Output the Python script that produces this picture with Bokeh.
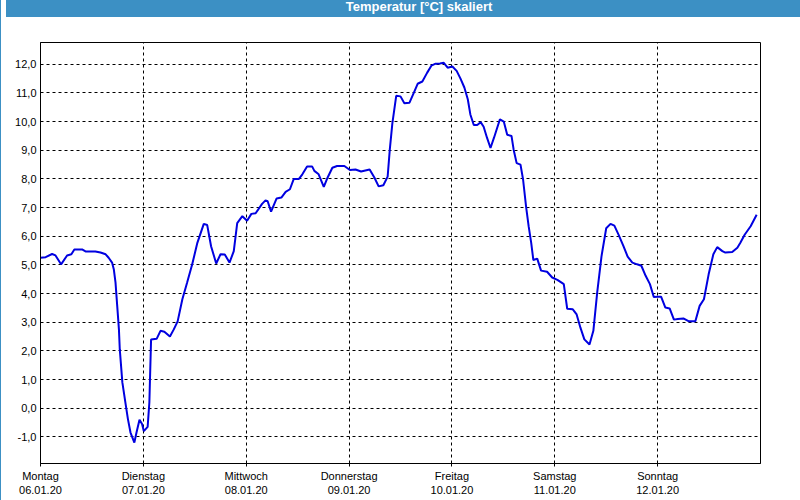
from bokeh.plotting import figure
from bokeh.models import FixedTicker, Label, Div, Range1d
from bokeh.layouts import column
from bokeh.embed import file_html
from bokeh.resources import INLINE

title_text = "Temperatur [°C] skaliert"
unit_text = "°C"

day_names = ["Montag", "Dienstag", "Mittwoch", "Donnerstag", "Freitag", "Samstag", "Sonntag"]
day_dates = ["06.01.20", "07.01.20", "08.01.20", "09.01.20", "10.01.20", "11.01.20", "12.01.20"]
day_hours = [0, 24, 48, 72, 96, 120, 144]

y_ticks = [-1, 0, 1, 2, 3, 4, 5, 6, 7, 8, 9, 10, 11, 12]

# hours since Monday 06.01.20 00:00
hours = [0.0, 1.2, 2.7, 3.5, 4.8, 6.2, 7.2, 7.9, 9.7, 10.5, 12.8, 14.0, 15.2, 15.9, 16.7,
         17.1, 17.5, 17.9, 18.3, 18.5, 19.1, 19.8, 20.4, 21.0, 21.9, 22.4, 23.1, 23.7, 24.1,
         25.0, 25.4, 25.8, 27.1, 28.0, 28.9, 30.2, 31.1, 32.0, 33.1, 34.2, 35.4, 36.6, 38.1,
         38.9, 39.8, 41.0, 42.0, 43.0, 44.1, 45.1, 45.9, 47.1, 48.2, 49.2, 50.2, 51.7, 52.5,
         53.0, 53.8, 55.1, 56.2, 57.2, 58.2, 59.1, 60.3, 61.1, 62.2, 63.4, 63.9, 64.9, 66.1,
         67.0, 68.1, 69.2, 70.9, 72.2, 73.5, 74.8, 76.8, 77.9, 78.9, 80.0, 81.0, 81.5, 82.1,
         83.0, 84.0, 84.9, 86.1, 87.1, 88.0, 89.1, 90.2, 91.2, 92.2, 93.2, 94.1, 95.0, 96.1,
         97.1, 98.0, 98.9, 99.7, 100.3, 101.1, 101.9, 102.7, 103.4, 104.2, 105.0, 105.8,
         107.2, 108.1, 108.9, 109.9, 110.4, 111.1, 112.0, 112.6, 113.3, 113.9, 114.5, 115.0,
         115.9, 116.8, 118.2, 119.4, 120.6, 121.5, 122.1, 122.9, 124.2, 125.1, 126.0, 126.9,
         128.1, 129.0, 129.9, 130.9, 132.0, 133.0, 133.9, 134.9, 136.0, 137.0, 138.1, 139.2,
         140.2, 141.2, 142.2, 143.1, 144.0, 144.8, 145.8, 146.8, 147.8, 148.7, 150.0, 151.3,
         152.8, 153.8, 154.8, 155.9, 157.0, 157.9, 159.1, 159.8, 161.4, 162.6, 163.3, 164.3,
         165.7, 167.1]

temp_c = [5.25, 5.27, 5.38, 5.33, 5.02, 5.33, 5.37, 5.54, 5.54, 5.47, 5.47, 5.43, 5.37, 5.25, 5.08,
          4.85, 4.39, 3.57, 2.75, 2.05, 0.90, 0.20, -0.38, -0.85, -1.20, -0.85, -0.40, -0.55, -0.80,
          -0.65, 0.20, 2.40, 2.42, 2.70, 2.67, 2.50, 2.75, 3.03, 3.80, 4.38, 5.02, 5.77, 6.43,
          6.39, 5.65, 5.05, 5.37, 5.36, 5.08, 5.48, 6.46, 6.70, 6.54, 6.78, 6.80, 7.13, 7.25,
          7.22, 6.86, 7.32, 7.35, 7.55, 7.64, 8.00, 8.00, 8.16, 8.43, 8.43, 8.28, 8.16, 7.72,
          8.05, 8.39, 8.45, 8.45, 8.31, 8.33, 8.26, 8.33, 8.05, 7.74, 7.78, 8.08, 9.02, 9.94,
          10.90, 10.88, 10.64, 10.66, 11.00, 11.32, 11.40, 11.70, 11.95, 12.02, 12.03, 12.05, 11.88, 11.92,
          11.77, 11.50, 11.19, 10.78, 10.25, 9.88, 9.88, 9.98, 9.82, 9.43, 9.08, 9.43,
          10.08, 10.00, 9.54, 9.50, 9.02, 8.55, 8.50, 7.98, 7.03, 6.35, 5.77, 5.17,
          5.22, 4.80, 4.76, 4.56, 4.48, 4.39, 4.33, 3.47, 3.45, 3.27, 2.80, 2.40,
          2.22, 2.70, 4.04, 5.30, 6.28, 6.43, 6.37, 6.05, 5.66, 5.29, 5.08, 5.02,
          4.97, 4.62, 4.33, 3.88, 3.89, 3.89, 3.51, 3.48, 3.09, 3.11, 3.13, 3.03,
          3.03, 3.57, 3.80, 4.67, 5.37, 5.62, 5.48, 5.43, 5.45, 5.60, 5.77, 6.05,
          6.35, 6.75]

FONT = "Liberation Sans"
BLUE_BAR = "#3c90c4"
W = 798

p = figure(width=W, height=479, output_backend="svg", toolbar_location=None,
           x_range=Range1d(0, 168), y_range=Range1d(-1.93, 12.76),
           min_border_left=39, min_border_right=39, min_border_top=20, min_border_bottom=38,
           background_fill_color="white", border_fill_color="white")
p.outline_line_color = "black"
p.outline_line_width = 1

p.line(hours, temp_c, line_width=2, line_color="#0000e0")

xa = p.xaxis[0]
xa.ticker = FixedTicker(ticks=day_hours)
xa.major_label_overrides = {h: f"{n}\n{d}" for h, n, d in zip(day_hours, day_names, day_dates)}
xa.major_tick_out = 3
xa.major_tick_in = 0
xa.minor_tick_out = 0
xa.minor_tick_in = 0
xa.major_label_standoff = 3
xa.major_label_text_font = FONT
xa.major_label_text_font_size = "11px"
xa.major_label_text_color = "black"
xa.axis_line_color = "black"
xa.major_tick_line_color = "black"

ya = p.yaxis[0]
ya.ticker = FixedTicker(ticks=y_ticks)
ya.major_label_overrides = {t: f"{t:.1f}".replace(".", ",") for t in y_ticks}
ya.major_tick_out = 0
ya.major_tick_in = 0
ya.minor_tick_out = 0
ya.minor_tick_in = 0
ya.major_label_standoff = 4
ya.major_label_text_font = FONT
ya.major_label_text_font_size = "11px"
ya.major_label_text_color = "black"
ya.axis_line_color = "black"

for g in (p.xgrid[0], p.ygrid[0]):
    g.grid_line_color = "black"
    g.grid_line_dash = "3 3"
    g.grid_line_width = 1
p.xgrid[0].ticker = FixedTicker(ticks=day_hours[1:])

p.add_layout(Label(x=-0.9, y=12.53, text=unit_text, text_align="right", text_baseline="middle",
                   text_font=FONT, text_font_size="11px", text_color="black"))

title = Div(text=title_text, width=W, height=20,
            styles={"background-color": BLUE_BAR, "color": "white", "font-family": FONT,
                    "font-weight": "bold", "font-size": "13px", "text-align": "center",
                    "line-height": "20px", "padding-left": "28px", "box-sizing": "border-box"})

layout = column(title, p, spacing=0,
                styles={"border-left": f"1px solid {BLUE_BAR}", "border-right": f"1px solid {BLUE_BAR}",
                        "border-bottom": f"1px solid {BLUE_BAR}", "margin-top": "-8px"})

page_template = """{% block preamble %}<style>html, body { margin: 0 !important; padding: 0 !important; overflow: hidden; }</style>{% endblock %}"""

open("out.html", "w").write(file_html(layout, INLINE, template=page_template))
